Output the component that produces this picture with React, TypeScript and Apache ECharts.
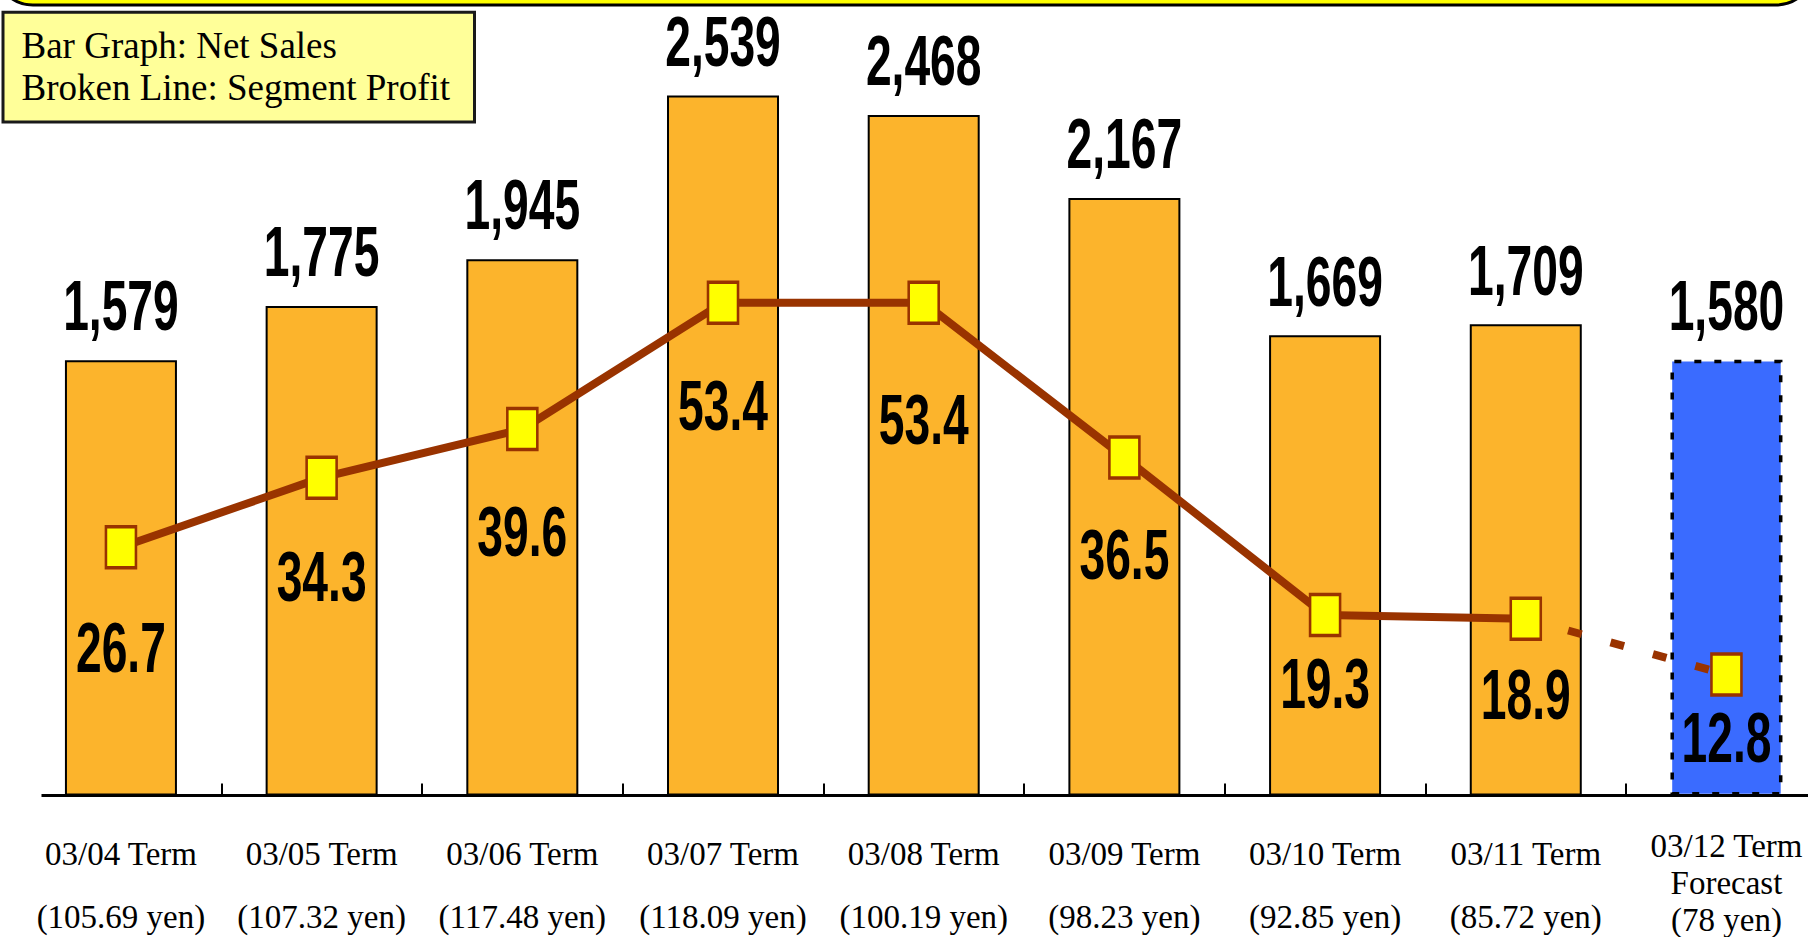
import { useEffect, useRef } from 'react';
import * as echarts from 'echarts';

// Fiscal terms, exchange-rate notes and the two measured series
const terms = ['03/04 Term', '03/05 Term', '03/06 Term', '03/07 Term', '03/08 Term', '03/09 Term', '03/10 Term', '03/11 Term', '03/12 Term'];
const termNotes = ['', '', '', '', '', '', '', '', 'Forecast'];
const yenRates = ['105.69', '107.32', '117.48', '118.09', '100.19', '98.23', '92.85', '85.72', '78'];
const netSales = [1579, 1775, 1945, 2539, 2468, 2167, 1669, 1709, 1580];
const segmentProfit = [26.7, 34.3, 39.6, 53.4, 53.4, 36.5, 19.3, 18.9, 12.8];
const forecastIndex = 8;
const legendLines = ['Bar Graph: Net Sales', 'Broken Line: Segment Profit'];

// vertical gap (px) between each profit marker and its value text
const profitLabelGap = [101, 99, 103, 103, 117, 97, 69, 76, 63];

const VIEW_W = 1808;
const W = 1830; // plot runs slightly past the right edge of the view
const H = 937;
const GRID_TOP = 23.5;
const GRID_H = 772;
const AXIS_Y = GRID_TOP + GRID_H;

const ORANGE = '#FCB42C';
const BLUE = '#3A6BFF';
const BROWN = '#993300';
const SERIF = '"Liberation Serif", "Times New Roman", serif';
const BIG_FONT = { fontFamily: '"Liberation Sans", Arial, sans-serif', fontWeight: 'bold', fontSize: 70 };
const NARROW = 0.66;

function bigText(x: number, y: number, text: string) {
  return {
    type: 'text',
    x,
    y,
    scaleX: NARROW,
    style: {
      text,
      fill: '#000',
      ...BIG_FONT,
      align: 'center',
      verticalAlign: 'middle',
      textAlign: 'center',
      textVerticalAlign: 'middle',
    },
  };
}

const serifRich = (lineHeight: number) => ({ fontFamily: SERIF, fontSize: 33, color: '#000', lineHeight });

function buildOption() {
  const barData = netSales.map((v, i) =>
    i === forecastIndex
      ? { value: v, itemStyle: { color: BLUE, borderColor: '#000', borderWidth: 3.5, borderType: [7, 13] } }
      : v
  );
  const solidProfit = segmentProfit.map((v, i) => (i < forecastIndex ? v : '-'));
  const forecastProfit = segmentProfit.map((v, i) =>
    i === forecastIndex - 1 ? { value: v, symbol: 'none' } : i === forecastIndex ? v : '-'
  );

  return {
    animation: false,
    backgroundColor: '#fff',
    grid: { left: 20.6, top: GRID_TOP, width: 1806.2, height: GRID_H, containLabel: false },
    xAxis: [
      {
        type: 'category',
        data: terms,
        position: 'bottom',
        axisLine: { show: false },
        axisTick: {
          show: true,
          inside: true,
          length: 12,
          interval: (index: number) => index !== 0,
          lineStyle: { color: '#000', width: 2 },
        },
        axisLabel: {
          interval: 0,
          margin: 35.5,
          color: '#000',
          formatter: (value: string, index: number) =>
            termNotes[index] ? `{a|${value}}\n{b|${termNotes[index]}}` : `{n|${value}}`,
          rich: { n: serifRich(46), a: serifRich(30), b: serifRich(44) },
        },
      },
      {
        type: 'category',
        data: yenRates.map((r) => `(${r} yen)`),
        position: 'bottom',
        gridIndex: 0,
        axisLine: { show: false },
        axisTick: { show: false },
        axisLabel: {
          interval: 0,
          margin: 101.5,
          color: '#000',
          formatter: (value: string, index: number) =>
            index === forecastIndex ? `{f|${value}}` : `{r|${value}}`,
          rich: { r: serifRich(40), f: serifRich(46) },
        },
      },
    ],
    yAxis: [
      { type: 'value', min: 0, max: 2800, show: false },
      { type: 'value', min: -0.4, max: 83.88, show: false },
    ],
    series: [
      {
        name: 'Net Sales',
        type: 'bar',
        barWidth: 112,
        data: barData,
        itemStyle: { color: ORANGE, borderColor: '#000', borderWidth: 2 },
        silent: true,
        z: 1,
      },
      {
        name: 'Segment Profit (forecast)',
        type: 'line',
        yAxisIndex: 1,
        data: forecastProfit,
        symbol: 'rect',
        symbolSize: [30, 41],
        itemStyle: { color: '#FFFF00', borderColor: BROWN, borderWidth: 3 },
        lineStyle: { color: BROWN, width: 8, type: [14, 30], cap: 'butt' },
        silent: true,
        z: 2,
      },
      {
        name: 'Segment Profit',
        type: 'line',
        yAxisIndex: 1,
        data: solidProfit,
        symbol: 'rect',
        symbolSize: [30, 41],
        showAllSymbol: true,
        itemStyle: { color: '#FFFF00', borderColor: BROWN, borderWidth: 3 },
        lineStyle: { color: BROWN, width: 8 },
        silent: true,
        z: 3,
      },
      {
        name: 'Net Sales values',
        type: 'custom',
        data: netSales.map((v, i) => [i, v]),
        silent: true,
        z: 4,
        renderItem: (params: any, api: any) => {
          const v = api.value(1);
          const p = api.coord([api.value(0), v]);
          return bigText(p[0], p[1] - 54, Number(v).toLocaleString('en-US'));
        },
      },
      {
        name: 'Segment Profit values',
        type: 'custom',
        yAxisIndex: 1,
        data: segmentProfit.map((v, i) => [i, v]),
        silent: true,
        z: 4,
        renderItem: (params: any, api: any) => {
          const v = api.value(1);
          const p = api.coord([api.value(0), v]);
          return bigText(p[0], p[1] + profitLabelGap[params.dataIndex], Number(v).toFixed(1));
        },
      },
    ],
    graphic: [
      {
        type: 'rect',
        shape: { x: -5, y: -80, width: 1819, height: 85, r: 38 },
        style: { fill: '#FFFF00', stroke: '#000', lineWidth: 3 },
        z: 10,
      },
      {
        type: 'rect',
        shape: { x: 3, y: 12.3, width: 471.5, height: 109.7 },
        style: { fill: '#FFFF99', stroke: '#1a1a1a', lineWidth: 3 },
        z: 10,
      },
      ...legendLines.map((t, i) => ({
        type: 'text',
        x: 21.5,
        y: 45.5 + i * 41.5,
        z: 11,
        style: {
          text: t,
          fill: '#000',
          fontFamily: SERIF,
          fontSize: 37,
          align: 'left',
          verticalAlign: 'middle',
          textAlign: 'left',
          textVerticalAlign: 'middle',
        },
      })),
      {
        type: 'line',
        shape: { x1: 41.5, y1: AXIS_Y, x2: W, y2: AXIS_Y },
        style: { stroke: '#000', lineWidth: 3 },
        z: 100,
      },
    ],
  };
}

export default function App() {
  const ref = useRef<HTMLDivElement>(null);

  useEffect(() => {
    if (!ref.current) return;
    const chart = echarts.init(ref.current, undefined, { renderer: 'svg', width: W, height: H });
    chart.setOption(buildOption() as any);
    return () => chart.dispose();
  }, []);

  return (
    <div
      style={{ position: 'fixed', left: 0, top: 0, width: VIEW_W, height: H, overflow: 'hidden', background: '#fff' }}
    >
      <div ref={ref} style={{ width: W, height: H }} />
    </div>
  );
}
